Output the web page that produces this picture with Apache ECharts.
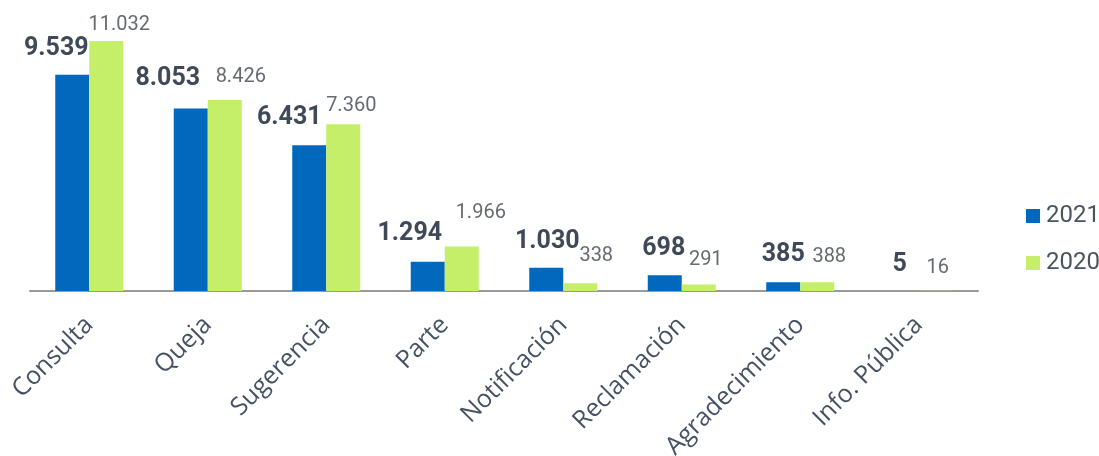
<!DOCTYPE html>
<html><head><meta charset="utf-8">
<script src="https://cdn.jsdelivr.net/npm/echarts@6/dist/echarts.min.js"></script>
<style>html,body{margin:0;padding:0;background:#fff}#c{width:1099px;height:456px}</style>
</head><body><div id="c"></div>
<script>
const categories = ['Consulta','Queja','Sugerencia','Parte','Notificación','Reclamación','Agradecimiento','Info. Pública'];
const values2021 = [9539, 8053, 6431, 1294, 1030, 698, 385, 5];
const values2020 = [11032, 8426, 7360, 1966, 338, 291, 388, 16];
const seriesNames = ['2021', '2020'];

// label placement tweaks (px), kept apart from the data
const dx2021 = [-16,-23,-20,-18,1,-1,0,-2];
const gap2021 = [18,21,19,19,17,18,19,18];
const dx2020 = [13,16,8,19,16,7,12,2];
const gap2020 = [9,16,11,26,20,17,18,16];

const fmt = v => String(v).replace(/\B(?=(\d{3})+(?!\d))/g, '.');

function mk(vals, dxs, gaps, base) {
  return vals.map((v, i) => ({
    value: v,
    label: { offset: [dxs[i], -(gaps[i] - base)] }
  }));
}

const chart = echarts.init(document.getElementById('c'), null, {renderer:'canvas'});
chart.setOption({
  animation: false,
  grid: { left: 30, right: 121, top: 19, bottom: 165, containLabel: false, outerBoundsMode: 'none' },
  legend: {
    orient: 'vertical', left: 1021, top: 199,
    itemWidth: 14, itemHeight: 14, itemGap: 23, icon: 'rect',
    textStyle: { fontFamily: 'Roboto', fontSize: 24, color: '#4a5360', padding: [0,0,0,1] },
    data: seriesNames
  },
  xAxis: {
    type: 'category', data: categories,
    axisLine: { lineStyle: { color: '#999', width: 2 } },
    axisTick: { length: 8, lineStyle: { color: '#999', width: 2 } },
    axisLabel: { rotate: 45, margin: 30, interval: 0, fontFamily: 'Open Sans', fontSize: 25, color: '#465264' }
  },
  yAxis: { type: 'value', min: 0, max: 12000, show: false, splitLine: { show: false } },
  series: [
    {
      name: seriesNames[0], type: 'bar', barWidth: 34, barGap: '0%',
      itemStyle: { color: '#0069be' },
      label: { show: true, position: 'top', distance: 0, formatter: p => fmt(p.value),
        fontFamily: 'Roboto', fontWeight: 'bold', fontSize: 25, color: '#3f4957' },
      data: mk(values2021, dx2021, gap2021, 4)
    },
    {
      name: seriesNames[1], type: 'bar', barWidth: 34, barGap: '0%',
      itemStyle: { color: '#c5ef68' },
      label: { show: true, position: 'top', distance: 0, formatter: p => fmt(p.value),
        fontFamily: 'Roboto', fontSize: 20, color: '#666b72' },
      data: mk(values2020, dx2020, gap2020, 3)
    }
  ]
});
</script></body></html>
